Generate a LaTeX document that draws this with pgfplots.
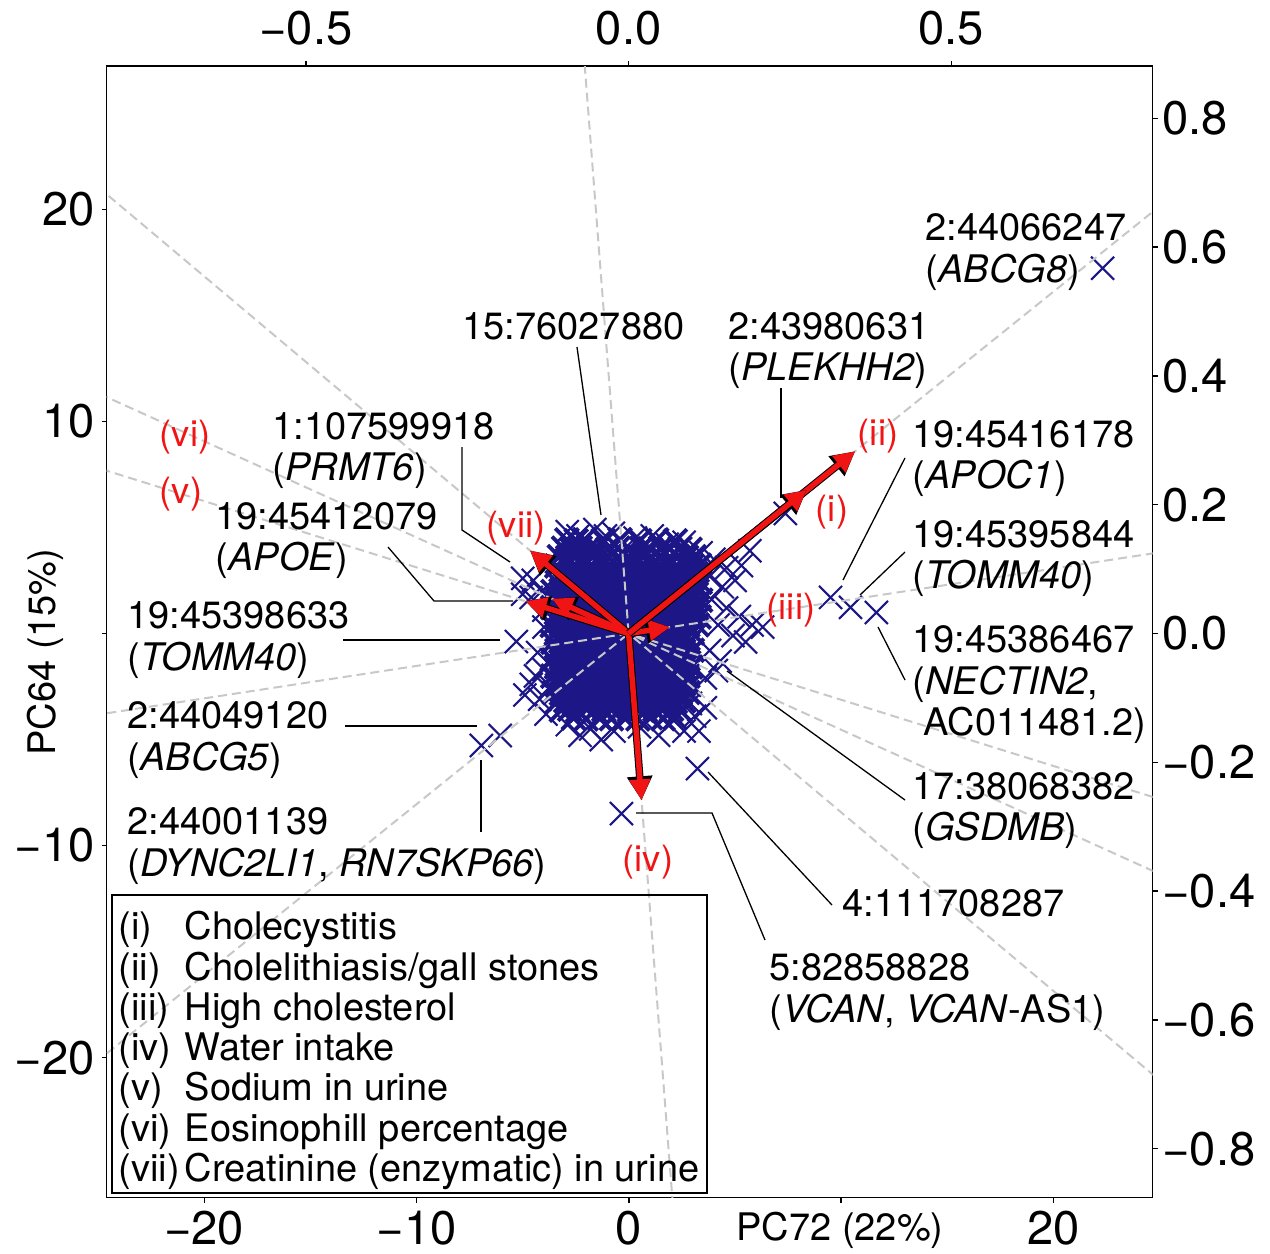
\documentclass[border=0pt]{standalone}
\usepackage{fontspec}
\setmainfont{TeX Gyre Heros}
\usepackage{pgfplots}
\pgfplotsset{compat=1.18}
\usetikzlibrary{arrows.meta}

\definecolor{snpblue}{RGB}{28,22,135}
\definecolor{arrred}{RGB}{240,20,20}
\definecolor{dashgray}{RGB}{200,200,200}

\newcommand\annsz{\fontsize{10.8}{11.8}\selectfont}
\newcommand\ticksz{\fontsize{13.4}{16}\selectfont}
\newcommand\redsz{\fontsize{10.3}{12}\selectfont}

\pgfplotsset{
  biplot/.style={
    width=10.455cm, height=11.31cm, scale only axis,
    tick align=outside, major tick length=0.05cm,
    every tick/.style={black, line width=0.4pt},
    axis line style={line width=0.4pt},
  },
  snp/.style={only marks, mark=x, mark size=0.163cm, snpblue,
    mark options={line width=0.6pt}},
  trait/.style={dashgray, line width=0.02cm, dash pattern=on 0.09cm off 0.05cm},
}

\begin{document}
\begin{tikzpicture}
% scores (PC72 / PC64)
\begin{axis}[biplot, name=ax,
  xmin=-24.6, xmax=24.67, ymin=-26.6, ymax=26.75,
  xtick={-20,-10,0,10,20}, xticklabels={−20,−10,0,{},20},
  ytick={-20,-10,0,10,20}, yticklabels={−20,−10,{},10,20},
  xtick pos=left, ytick pos=left,
  xticklabel style={font=\ticksz, inner sep=0pt, yshift=-0.075cm},
  yticklabel style={font=\ticksz, inner sep=0pt, xshift=-0.06cm},
  clip mode=individual]

% dense core
\addplot[snp, mark options={line width=1.1pt}] coordinates {
(-2.92,4.41) (-2.48,4.37) (-2.09,4.43) (-1.21,4.39) (-0.42,4.42) (0.51,4.38) (1.31,4.41) (2.19,4.37)
(-3.08,4.02) (-2.71,3.97) (-2.29,4.03) (-1.92,3.98) (-1.48,4.01) (-1.02,3.96) (-0.51,4.03) (0.02,3.98) (0.59,4.02) (1.02,3.97) (1.49,4.03) (1.92,3.98) (2.41,4.02) (2.88,3.97)
(-3.28,3.62) (-2.88,3.58) (-2.49,3.63) (-2.11,3.57) (-1.69,3.61) (-1.31,3.64) (-0.92,3.58) (-0.48,3.62) (-0.09,3.57) (0.32,3.61) (0.71,3.63) (1.09,3.58) (1.52,3.62) (1.89,3.57) (2.31,3.61) (2.72,3.59) (3.08,3.62)
(-3.40,3.18) (-2.97,3.23) (-2.62,3.17) (-2.18,3.22) (-1.81,3.19) (-1.38,3.24) (-1.02,3.16) (-0.58,3.21) (-0.22,3.18) (0.21,3.23) (0.58,3.17) (1.03,3.22) (1.38,3.19) (1.82,3.24) (2.19,3.16) (2.62,3.21) (2.98,3.18) (3.32,3.22)
(-3.21,2.82) (-2.78,2.77) (-2.42,2.83) (-1.98,2.78) (-1.61,2.81) (-1.18,2.76) (-0.82,2.83) (-0.38,2.79) (0.02,2.82) (0.41,2.77) (0.79,2.83) (1.22,2.78) (1.58,2.81) (2.02,2.76) (2.39,2.83) (2.81,2.79) (3.18,2.82)
(-3.38,2.41) (-3.02,2.37) (-2.59,2.43) (-2.21,2.38) (-1.78,2.42) (-1.42,2.36) (-0.99,2.41) (-0.61,2.44) (-0.18,2.38) (0.19,2.42) (0.62,2.37) (0.98,2.43) (1.41,2.38) (1.79,2.41) (2.22,2.36) (2.58,2.42) (3.01,2.39) (3.36,2.41)
(-3.58,1.98) (-3.19,2.03) (-2.82,1.97) (-2.38,2.02) (-2.01,1.98) (-1.62,2.04) (-1.19,1.97) (-0.79,2.01) (-0.41,1.98) (0.01,2.03) (0.38,1.97) (0.81,2.02) (1.19,1.98) (1.62,2.03) (1.98,1.97) (2.41,2.02) (2.79,1.98) (3.22,2.01)
(-3.41,1.62) (-2.98,1.57) (-2.61,1.63) (-2.19,1.58) (-1.82,1.61) (-1.39,1.56) (-1.01,1.62) (-0.62,1.59) (-0.19,1.63) (0.22,1.58) (0.59,1.61) (1.02,1.57) (1.38,1.62) (1.81,1.58) (2.18,1.63) (2.61,1.59) (2.99,1.61) (3.38,1.57)
(-3.59,1.22) (-3.21,1.17) (-2.79,1.21) (-2.41,1.18) (-1.98,1.23) (-1.59,1.19) (-1.22,1.22) (-0.78,1.17) (-0.39,1.21) (0.02,1.18) (0.42,1.23) (0.78,1.19) (1.21,1.21) (1.59,1.17) (2.02,1.22) (2.38,1.18) (2.81,1.21) (3.19,1.19)
(-3.38,0.81) (-3.01,0.77) (-2.58,0.82) (-2.22,0.78) (-1.79,0.83) (-1.41,0.79) (-0.98,0.81) (-0.59,0.77) (-0.21,0.82) (0.18,0.79) (0.61,0.83) (0.99,0.78) (1.42,0.81) (1.78,0.77) (2.21,0.82) (2.59,0.79) (3.02,0.81) (3.31,0.78)
(-3.61,0.38) (-3.18,0.42) (-2.81,0.37) (-2.39,0.41) (-2.02,0.38) (-1.58,0.43) (-1.21,0.39) (-0.82,0.42) (-0.38,0.37) (0.01,0.41) (0.39,0.38) (0.82,0.42) (1.18,0.37) (1.61,0.41) (1.99,0.38) (2.42,0.43) (2.78,0.39) (3.21,0.41)
(-3.42,0.02) (-2.99,-0.03) (-2.62,0.01) (-2.18,-0.02) (-1.81,0.03) (-1.39,-0.01) (-1.02,0.02) (-0.58,-0.03) (-0.22,0.01) (0.21,-0.02) (0.58,0.03) (1.01,-0.01) (1.39,0.02) (1.82,-0.03) (2.19,0.01) (2.61,-0.02) (2.98,0.03)
(-3.58,-0.41) (-3.21,-0.37) (-2.78,-0.42) (-2.41,-0.38) (-1.99,-0.43) (-1.62,-0.39) (-1.18,-0.41) (-0.81,-0.37) (-0.42,-0.42) (0.02,-0.38) (0.41,-0.43) (0.79,-0.39) (1.22,-0.41) (1.58,-0.37) (2.01,-0.42) (2.39,-0.38) (2.82,-0.41)
(-3.39,-0.79) (-3.02,-0.83) (-2.59,-0.78) (-2.21,-0.82) (-1.78,-0.77) (-1.42,-0.81) (-0.99,-0.78) (-0.61,-0.83) (-0.18,-0.79) (0.19,-0.82) (0.62,-0.77) (0.98,-0.81) (1.41,-0.79) (1.79,-0.83) (2.22,-0.78) (2.58,-0.82) (2.99,-0.79)
(-3.62,-1.21) (-3.19,-1.17) (-2.82,-1.22) (-2.38,-1.18) (-2.01,-1.23) (-1.59,-1.19) (-1.21,-1.21) (-0.78,-1.17) (-0.41,-1.22) (-0.01,-1.18) (0.38,-1.23) (0.81,-1.19) (1.19,-1.21) (1.62,-1.17) (1.98,-1.22) (2.41,-1.18) (2.79,-1.21)
(-3.41,-1.58) (-2.98,-1.62) (-2.61,-1.57) (-2.19,-1.61) (-1.82,-1.58) (-1.38,-1.63) (-1.01,-1.59) (-0.62,-1.61) (-0.19,-1.57) (0.22,-1.62) (0.59,-1.58) (1.02,-1.61) (1.38,-1.57) (1.81,-1.62) (2.18,-1.59) (2.61,-1.61) (2.92,-1.58)
(-3.59,-2.01) (-3.22,-1.97) (-2.79,-2.02) (-2.41,-1.98) (-1.98,-2.03) (-1.61,-1.99) (-1.19,-2.01) (-0.82,-1.97) (-0.39,-2.02) (0.02,-1.98) (0.41,-2.03) (0.78,-1.99) (1.21,-2.01) (1.59,-1.97) (2.02,-2.02) (2.38,-1.98) (2.78,-2.01)
(-3.38,-2.42) (-3.01,-2.38) (-2.58,-2.41) (-2.22,-2.37) (-1.79,-2.42) (-1.41,-2.38) (-0.98,-2.43) (-0.59,-2.39) (-0.21,-2.41) (0.18,-2.37) (0.61,-2.42) (0.99,-2.38) (1.42,-2.41) (1.78,-2.37) (2.21,-2.42) (2.59,-2.38) (2.88,-2.41)
(-3.52,-2.79) (-3.18,-2.83) (-2.81,-2.78) (-2.39,-2.82) (-2.02,-2.77) (-1.58,-2.81) (-1.22,-2.78) (-0.79,-2.83) (-0.38,-2.79) (0.01,-2.82) (0.42,-2.77) (0.79,-2.81) (1.18,-2.78) (1.61,-2.83) (1.99,-2.79) (2.42,-2.82) (2.79,-2.78)
(-3.37,-3.21) (-2.98,-3.17) (-2.62,-3.22) (-2.18,-3.18) (-1.81,-3.23) (-1.39,-3.19) (-1.02,-3.21) (-0.58,-3.17) (-0.22,-3.22) (0.21,-3.18) (0.58,-3.23) (1.01,-3.19) (1.39,-3.21) (1.82,-3.17) (2.19,-3.22) (2.58,-3.18)
(-3.18,-3.61) (-2.79,-3.57) (-2.42,-3.62) (-1.98,-3.58) (-1.61,-3.63) (-1.18,-3.59) (-0.81,-3.61) (-0.39,-3.57) (0.02,-3.62) (0.41,-3.58) (0.79,-3.63) (1.22,-3.59) (1.58,-3.61) (2.01,-3.57) (2.41,-3.62)
(-2.61,-3.98) (-2.02,-4.03) (-1.41,-3.97) (-0.82,-4.02) (-0.21,-3.98) (0.42,-4.03) (1.02,-3.97) (1.61,-4.02) (2.18,-3.98)
};
% fringe of the cloud
\addplot[snp] coordinates {
(-2.9,4.8) (-2.4,4.6) (-1.6,4.9) (-1.1,4.6) (0.3,4.5) (1.1,4.6) (1.8,4.2) (2.6,4.3) (3.4,3.8) (4.0,3.5) (4.6,3.1) (5.3,3.2) (5.7,3.9) (5.0,2.5) (4.4,2.2) (3.8,2.7) (3.9,1.6)
(4.6,1.2) (5.2,0.8) (5.8,0.4) (6.3,0.3) (4.9,-0.1) (5.5,-0.4) (4.2,0.4) (3.8,-0.8) (4.3,-1.3) (3.6,-2.1)
(-4.1,2.0) (-4.0,1.1) (-4.0,0.3) (-4.3,-0.9) (-4.0,-1.7) (-4.6,-2.4) (-4.9,-2.9) (-4.2,-3.1) (-3.9,-3.8) (-3.7,-2.5) (-4.4,-2.0)
(-2.9,-4.3) (-2.3,-4.8) (-1.8,-4.5) (-1.3,-5.0) (-0.7,-4.6) (0.5,-4.4) (1.4,-4.8) (1.9,-4.3) (2.6,-4.6) (3.1,-3.9) (3.6,-3.5) (2.9,-3.3) (3.3,-4.6)
(-4.5,2.5) (-4.6,1.7)
};
% annotated SNPs
\addplot[snp] coordinates {
(22.31,17.22) (7.37,5.66) (-0.73,4.72) (-5.0,2.6) (-5.0,1.85) (-5.30,-0.38)
(-6.06,-4.81) (-6.95,-5.28) (9.50,1.70) (10.44,1.23) (11.66,0.99)
(4.12,-1.75) (3.23,-6.37) (-0.35,-8.49)
};
\end{axis}

% loadings (top / right axes)
\begin{axis}[biplot,
  xmin=-0.809, xmax=0.812, ymin=-0.876, ymax=0.881,
  xtick={-0.5,0,0.5}, xticklabels={−0.5,0.0,0.5},
  ytick={-0.8,-0.6,-0.4,-0.2,0,0.2,0.4,0.6,0.8},
  yticklabels={−0.8,−0.6,−0.4,−0.2,0.0,0.2,0.4,0.6,0.8},
  xtick pos=right, ytick pos=right,
  xticklabel style={font=\ticksz, inner sep=0pt, yshift=0.15cm},
  yticklabel style={font=\ticksz, inner sep=0pt, xshift=0.04cm}]
\addplot[trait] coordinates {(-1.755,-1.415) (1.755,1.415)};
\addplot[trait] coordinates {(-1.28,-0.196) (1.28,0.196)};
\addplot[trait] coordinates {(-0.10,1.295) (0.10,-1.295)};
\addplot[trait] coordinates {(1.60,-0.50) (-1.60,0.50)};
\addplot[trait] coordinates {(1.19,-0.54) (-1.19,0.54)};
\addplot[trait] coordinates {(1.53,-1.29) (-1.53,1.29)};

\addplot[black, line width=0.075cm, no markers,
  -{Triangle[length=0.24cm,width=0.24cm]},
  quiver={u=\thisrow{u}, v=\thisrow{v}}] table {
x y u v
0 0 0.351 0.283
0 0 0.064 0.0098
0 0 0.020 -0.259
0 0 -0.160 0.050
0 0 -0.119 0.054
0 0 -0.153 0.129
};
\addplot[arrred, line width=0.055cm, no markers,
  -{Triangle[length=0.21cm,width=0.2cm]},
  quiver={u=\thisrow{u}, v=\thisrow{v}}] table {
x y u v
0 0 0.351 0.283
0 0 0.064 0.0098
0 0 0.020 -0.259
0 0 -0.160 0.050
0 0 -0.119 0.054
0 0 -0.153 0.129
};
% (i) lies on top of (ii)
\addplot[black, line width=0.075cm, no markers,
  -{Triangle[length=0.24cm,width=0.24cm]},
  quiver={u=\thisrow{u}, v=\thisrow{v}}] table {
x y u v
0 0 0.276 0.223
};
\addplot[arrred, line width=0.055cm, no markers,
  -{Triangle[length=0.21cm,width=0.2cm]},
  quiver={u=\thisrow{u}, v=\thisrow{v}}] table {
x y u v
0 0 0.276 0.223
};
\end{axis}

% annotations, in pixel units of the figure (origin top left)
\begin{scope}[shift={(ax.north west)}, xshift=-1.065cm, yshift=0.66cm,
  x=0.01cm, y=-0.01cm,
  lbl/.style={anchor=base west, inner sep=0pt, font=\annsz},
  red/.style={inner sep=0pt, font=\redsz, text=arrred},
  lead/.style={line width=0.37pt}]
\node[inner sep=0pt, font=\annsz] at (840,1230) {PC72 (22\%)};
\node[inner sep=0pt, font=\annsz, rotate=90] at (45,652) {PC64 (15\%)};

\node[lbl] at (925,240) {2:44066247};
\node[lbl] at (925,282) {(\textit{ABCG8})};
\node[lbl] at (462,339) {15:76027880};
\node[lbl] at (728,339) {2:43980631};
\node[lbl] at (728,380) {(\textit{PLEKHH2})};
\node[lbl] at (272,439) {1:107599918};
\node[lbl] at (272,480) {(\textit{PRMT6})};
\node[lbl] at (215,529) {19:45412079};
\node[lbl] at (215,570) {(\textit{APOE})};
\node[lbl] at (912,447) {19:45416178};
\node[lbl] at (912,488) {(\textit{APOC1})};
\node[lbl] at (912,547) {19:45395844};
\node[lbl] at (912,588) {(\textit{TOMM40})};
\node[lbl] at (127,628) {19:45398633};
\node[lbl] at (127,670) {(\textit{TOMM40})};
\node[lbl] at (912,652) {19:45386467};
\node[lbl] at (912,694) {(\textit{NECTIN2},};
\node[lbl] at (923,735) {AC011481.2)};
\node[lbl] at (127,728) {2:44049120};
\node[lbl] at (127,770) {(\textit{ABCG5})};
\node[lbl] at (912,799) {17:38068382};
\node[lbl] at (912,840) {(\textit{GSDMB})};
\node[lbl] at (127,834) {2:44001139};
\node[lbl] at (127,876) {(\textit{DYNC2LI1}, \textit{RN7SKP66})};
\node[lbl] at (842,916) {4:111708287};
\node[lbl] at (769,980) {5:82858828};
\node[lbl] at (769,1022) {(\textit{VCAN}, \textit{VCAN}-AS1)};

\draw[lead] (577,347) -- (601,515);
\draw[lead] (781,388) -- (781,498);
\draw[lead] (462,447) -- (462,530) -- (510,562);
\draw[lead] (388,547) -- (434,601) -- (513,601);
\draw[lead] (343,640) -- (500,640);
\draw[lead] (345,726) -- (477,726);
\draw[lead] (481,760) -- (481,832);
\draw[lead] (843,580) -- (905,458);
\draw[lead] (860,595) -- (905,552);
\draw[lead] (878,627) -- (905,680);
\draw[lead] (727,671) -- (905,800);
\draw[lead] (708,772) -- (832,905);
\draw[lead] (636,813) -- (712,813) -- (765,940);

\node[red] at (185,437) {(vi)};
\node[red] at (181,494) {(v)};
\node[red] at (516,528) {(vii)};
\node[red] at (791,610) {(iii)};
\node[red] at (832,512) {(i)};
\node[red] at (878,436) {(ii)};
\node[red] at (648,862) {(iv)};

\draw[line width=0.43pt] (112,895) rectangle (707,1193);
\node[lbl] at (118,939) {(i)};   \node[lbl] at (184,939) {Cholecystitis};
\node[lbl] at (118,980) {(ii)};  \node[lbl] at (184,980) {Cholelithiasis/gall stones};
\node[lbl] at (118,1020) {(iii)}; \node[lbl] at (184,1020) {High cholesterol};
\node[lbl] at (118,1060) {(iv)};  \node[lbl] at (184,1060) {Water intake};
\node[lbl] at (118,1100) {(v)};   \node[lbl] at (184,1100) {Sodium in urine};
\node[lbl] at (118,1141) {(vi)};  \node[lbl] at (184,1141) {Eosinophill percentage};
\node[lbl] at (118,1181) {(vii)}; \node[lbl] at (184,1181) {Creatinine (enzymatic) in urine};

\pgfresetboundingbox
\path (0,0) rectangle (1270,1253);
\end{scope}
\end{tikzpicture}
\end{document}
